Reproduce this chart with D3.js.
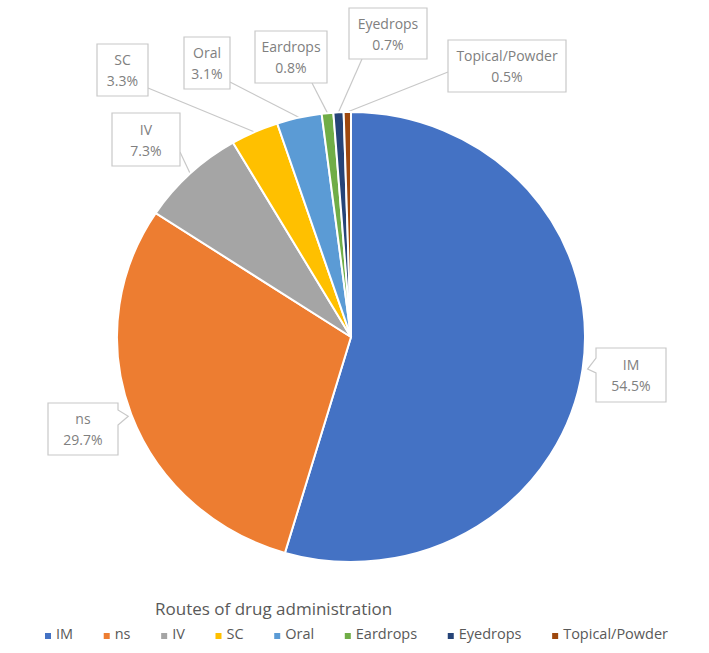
<!DOCTYPE html>
<html>
<head>
<meta charset="utf-8">
<script src="https://cdn.jsdelivr.net/npm/d3@7"></script>
<style>
  body { margin: 0; background: #fff; }
  text { font-family: "Open Sans", "Noto Sans", sans-serif; }
</style>
</head>
<body>
<div id="chart-container"></div>
<script>
// Data
const categories = ["IM", "ns", "IV", "SC", "Oral", "Eardrops", "Eyedrops", "Topical/Powder"]
const shares = [54.5, 29.7, 7.3, 3.3, 3.1, 0.8, 0.7, 0.5]
const colours = ["#4472C4", "#ED7D31", "#A5A5A5", "#FFC000", "#5B9BD5", "#70AD47", "#264478", "#9E480E"]
const legendTitle = "Routes of drug administration"

// label boxes (layout only): box rect, and where the leader leaves the box
const labelBoxes = [
  { x: 596, y: 348, w: 70, h: 54, kind: "notch-left" },
  { x: 48, y: 403, w: 70, h: 52, kind: "notch-right" },
  { x: 112, y: 113, w: 68, h: 53, ax: 180, ay: 152 },
  { x: 97, y: 44, w: 51, h: 52, ax: 148, ay: 88 },
  { x: 184, y: 37, w: 46, h: 52, ax: 230, ay: 82 },
  { x: 255, y: 31, w: 72, h: 52, ax: 312, ay: 83 },
  { x: 349, y: 8, w: 78, h: 51, ax: 362, ay: 59 },
  { x: 448, y: 40, w: 118, h: 52, ax: 448, ay: 72 }
]

const W = 709, H = 653
const cx = 351, cy = 337
const ry = 225, rx = 234
const kx = rx / ry

const data = categories.map((c, i) => ({ name: c, v: shares[i], colour: colours[i] }))

const svg = d3.select("#chart-container")
  .append("svg")
  .attr("width", W)
  .attr("height", H)

const pie = d3.pie().sort(null).value(d => d.v)
const arcs = pie(data)
const arc = d3.arc().innerRadius(0).outerRadius(ry)
const edge = d3.arc().innerRadius(ry).outerRadius(ry)

// point on the rim of the (slightly wide) pie
const rim = d => {
  const [px, py] = edge.centroid(d)
  return [cx + px * kx, cy + py]
}

// leader lines first so the slices sit above
const lines = svg.append("g")
arcs.forEach((d, i) => {
  const b = labelBoxes[i]
  if (b.kind) return
  const [px, py] = rim(d)
  lines.append("line")
    .attr("x1", b.ax).attr("y1", b.ay)
    .attr("x2", px).attr("y2", py)
    .attr("stroke", "#c8c8c8")
    .attr("stroke-width", 1.2)
})

const pg = svg.append("g")
  .attr("transform", `translate(${cx},${cy}) scale(${kx},1)`)

pg.selectAll("path")
  .data(arcs)
  .enter().append("path")
  .attr("d", arc)
  .attr("fill", d => d.data.colour)
  .attr("stroke", "#fff")
  .attr("stroke-width", 2)
  .attr("vector-effect", "non-scaling-stroke")

// labels
const lg = svg.append("g")
arcs.forEach((d, i) => {
  const b = labelBoxes[i]
  const [px, py] = rim(d)
  let path
  if (b.kind === "notch-left") {
    const tx = px + 5, ty = py
    path = `M${b.x},${b.y} H${b.x + b.w} V${b.y + b.h} H${b.x} V${b.y + 25} L${tx},${ty} L${b.x},${b.y + 10} Z`
  } else if (b.kind === "notch-right") {
    const tx = px - 3, ty = py + 2
    path = `M${b.x},${b.y} H${b.x + b.w} V${b.y + 7} L${tx},${ty} L${b.x + b.w},${b.y + 22} V${b.y + b.h} H${b.x} Z`
  } else {
    path = `M${b.x},${b.y} H${b.x + b.w} V${b.y + b.h} H${b.x} Z`
  }
  lg.append("path")
    .attr("d", path)
    .attr("fill", "#fff")
    .attr("stroke", "#c8c8c8")
    .attr("stroke-width", 1.2)

  const t = lg.append("text")
    .attr("x", b.x + b.w / 2)
    .attr("y", b.y + b.h / 2)
    .attr("text-anchor", "middle")
    .style("font-size", "14px")
    .style("fill", "#808080")
  t.append("tspan").attr("x", b.x + b.w / 2).attr("dy", "-0.35em").text(d.data.name)
  t.append("tspan").attr("x", b.x + b.w / 2).attr("dy", "1.5em").text(d.data.v.toFixed(1) + "%")
})

// legend title
svg.append("text")
  .attr("x", 155)
  .attr("y", 615)
  .style("font-size", "17px")
  .style("fill", "#595959")
  .text(legendTitle)

// legend items spread over the bottom row
const legLeft = 45, legRight = 668
const leg = svg.append("g").attr("transform", "translate(0,639)")
const items = leg.selectAll("g")
  .data(data)
  .enter().append("g")
items.append("rect")
  .attr("width", 6).attr("height", 6)
  .attr("y", -6)
  .attr("fill", d => d.colour)
items.append("text")
  .attr("x", 11)
  .attr("y", 0)
  .style("font-size", "14.5px")
  .style("fill", "#595959")
  .text(d => d.name)

const widths = []
items.each(function () {
  widths.push(11 + d3.select(this).select("text").node().getComputedTextLength())
})
const gap = (legRight - legLeft - d3.sum(widths)) / (widths.length - 1)
let xpos = legLeft
items.each(function (d, i) {
  d3.select(this).attr("transform", `translate(${xpos},0)`)
  xpos += widths[i] + gap
})
</script>
</body>
</html>
